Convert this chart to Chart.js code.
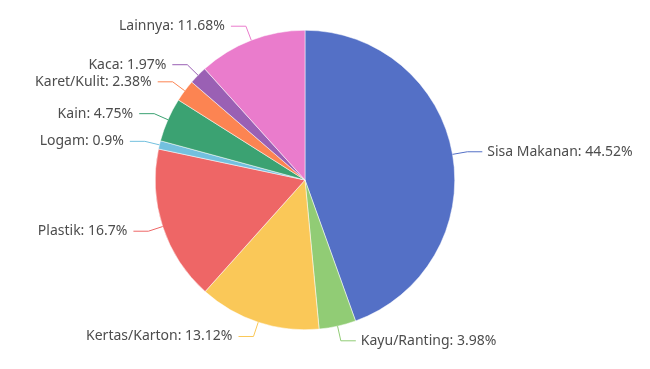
<!DOCTYPE html>
<html lang="id">
<head>
    <meta charset="UTF-8">
    <title>Komposisi Sampah</title>
    <script src="https://cdn.jsdelivr.net/npm/chart.js"></script>
    <style>
        html, body { margin: 0; padding: 0; background: #fff; }
        .chart-container { width: 650px; height: 369px; }
    </style>
</head>
<body>
    <div class="chart-container">
        <canvas id="pieChart"></canvas>
    </div>

    <script>
        // data
        const categories = ['Sisa Makanan', 'Kayu/Ranting', 'Kertas/Karton', 'Plastik', 'Logam', 'Kain', 'Karet/Kulit', 'Kaca', 'Lainnya'];
        const percentages = [44.52, 3.98, 13.12, 16.7, 0.9, 4.75, 2.38, 1.97, 11.68];
        const colors = ['#5470c6', '#91cc75', '#fac858', '#ee6666', '#73c0de', '#3ba272', '#fc8452', '#9a60b4', '#ea7ccc'];

        // outside labels with leader lines (echarts style)
        const outsideLabels = {
            id: 'outsideLabels',
            afterDatasetsDraw(chart) {
                const ctx = chart.ctx;
                const meta = chart.getDatasetMeta(0);
                ctx.save();
                ctx.font = '14px "Noto Sans", sans-serif';
                ctx.textBaseline = 'middle';
                meta.data.forEach((arc, i) => {
                    const mid = (arc.startAngle + arc.endAngle) / 2;
                    const cx = arc.x, cy = arc.y, r = arc.outerRadius;
                    const x0 = cx + Math.cos(mid) * r;
                    const y0 = cy + Math.sin(mid) * r;
                    const x1 = cx + Math.cos(mid) * (r + 15);
                    const y1 = cy + Math.sin(mid) * (r + 15);
                    const right = Math.cos(mid) >= 0;
                    const x2 = x1 + (right ? 15 : -15);
                    ctx.strokeStyle = colors[i];
                    ctx.lineWidth = 1;
                    ctx.beginPath();
                    ctx.moveTo(x0, y0);
                    ctx.lineTo(x1, y1);
                    ctx.lineTo(x2, y1);
                    ctx.stroke();
                    ctx.fillStyle = '#4d4d4d';
                    ctx.textAlign = right ? 'left' : 'right';
                    ctx.fillText(categories[i] + ': ' + percentages[i] + '%', x2 + (right ? 5 : -6), y1);
                });
                ctx.restore();
            }
        };

        new Chart(document.getElementById('pieChart'), {
            type: 'pie',
            data: {
                labels: categories,
                datasets: [{
                    data: percentages,
                    backgroundColor: colors,
                    borderColor: '#fff',
                    borderWidth: 0.5
                }]
            },
            options: {
                responsive: true,
                maintainAspectRatio: false,
                animation: false,
                layout: { padding: { left: 155, right: 195, top: 30, bottom: 39 } },
                plugins: {
                    legend: { display: false },
                    tooltip: { enabled: false }
                }
            },
            plugins: [outsideLabels]
        });
    </script>
</body>
</html>
